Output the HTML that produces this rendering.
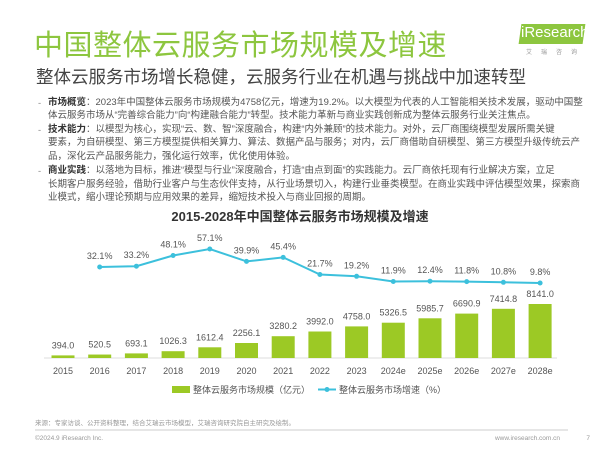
<!DOCTYPE html><html><head><meta charset="utf-8"><style>
body{margin:0;width:600px;height:449px;background:#fff;position:relative;overflow:hidden;font-family:"Liberation Sans","Noto Sans CJK SC",sans-serif;}
.a{position:absolute;white-space:nowrap}
.t{font-size:9.5px;color:#555;left:48px;line-height:12px}
.t b{color:#333}
.d{left:38px;font-size:9.4px;color:#888}
</style></head><body>
<div class="a" style="left:34px;top:22px;font-size:29px;color:#8dc63f;letter-spacing:0.5px">中国整体云服务市场规模及增速</div>
<div class="a" style="left:36px;top:64px;font-size:17.5px;color:#444">整体云服务市场增长稳健，云服务行业在机遇与挑战中加速转型</div>
<div class="a" style="left:520px;top:24px;width:64px;height:20px;background:#8dc63f;transform:skewX(-8deg)"></div>
<div class="a" style="left:521px;top:24px;font-size:15px;color:#fff">iResearch</div>
<div class="a" style="left:526px;top:47px;font-size:6px;color:#999;letter-spacing:9px">艾瑞咨询</div>
<div class="a d" style="top:97px">-</div><div class="a t" style="top:97px"><b>市场概览</b>：2023年中国整体云服务市场规模为4758亿元，增速为19.2%。以大模型为代表的人工智能相关技术发展，驱动中国整</div>
<div class="a t" style="top:110px">体云服务市场从“完善综合能力”向“构建融合能力”转型。技术能力革新与商业实践创新成为整体云服务行业关注焦点。</div>
<div class="a d" style="top:124px">-</div><div class="a t" style="top:124px"><b>技术能力</b>：以模型为核心，实现“云、数、智”深度融合，构建“内外兼顾”的技术能力。对外，云厂商围绕模型发展所需关键</div>
<div class="a t" style="top:137px">要素，为自研模型、第三方模型提供相关算力、算法、数据产品与服务；对内，云厂商借助自研模型、第三方模型升级传统云产</div>
<div class="a t" style="top:151px">品，深化云产品服务能力，强化运行效率，优化使用体验。</div>
<div class="a d" style="top:165px">-</div><div class="a t" style="top:165px"><b>商业实践</b>：以落地为目标，推进“模型与行业”深度融合，打造“由点到面”的实践能力。云厂商依托现有行业解决方案，立足</div>
<div class="a t" style="top:179px">长期客户服务经验，借助行业客户与生态伙伴支持，从行业场景切入，构建行业垂类模型。在商业实践中评估模型效果，探索商</div>
<div class="a t" style="top:192px">业模式，缩小理论预期与应用效果的差异，缩短技术投入与商业回报的周期。</div>
<div class="a" style="left:0;width:600px;text-align:center;top:206px;font-size:13px;font-weight:bold;color:#333">2015-2028年中国整体云服务市场规模及增速</div>
<svg class="a" style="left:0;top:0" width="600" height="449" font-family="Liberation Sans, Noto Sans CJK SC, sans-serif">
<line x1="44" y1="358" x2="557" y2="358" stroke="#ddd"/>
<g fill="#9cc925">
<rect x="51.5" y="355.4" width="23" height="2.6"/>
<rect x="88.2" y="354.55" width="23" height="3.45"/>
<rect x="124.9" y="353.4" width="23" height="4.6"/>
<rect x="161.6" y="351.2" width="23" height="6.8"/>
<rect x="198.3" y="347.3" width="23" height="10.7"/>
<rect x="235" y="343" width="23" height="15"/>
<rect x="271.7" y="336.2" width="23" height="21.8"/>
<rect x="308.4" y="331.5" width="23" height="26.5"/>
<rect x="345.1" y="326.4" width="23" height="31.6"/>
<rect x="381.8" y="322.7" width="23" height="35.3"/>
<rect x="418.5" y="318.3" width="23" height="39.7"/>
<rect x="455.2" y="313.6" width="23" height="44.4"/>
<rect x="491.9" y="308.8" width="23" height="49.2"/>
<rect x="528.6" y="304" width="23" height="54"/>
</g>
<g font-size="9" fill="#555" text-anchor="middle">
<text x="63" y="348.4">394.0</text>
<text x="99.7" y="347.5">520.5</text>
<text x="136.4" y="346.4">693.1</text>
<text x="173.1" y="344.2">1026.3</text>
<text x="209.8" y="340.3">1612.4</text>
<text x="246.5" y="336">2256.1</text>
<text x="283.2" y="329.2">3280.2</text>
<text x="319.9" y="324.5">3992.0</text>
<text x="356.6" y="319.4">4758.0</text>
<text x="393.3" y="315.7">5326.5</text>
<text x="430" y="311.3">5985.7</text>
<text x="466.7" y="306.6">6690.9</text>
<text x="503.4" y="301.8">7414.8</text>
<text x="540.1" y="297">8141.0</text>
<text x="63" y="374">2015</text><text x="99.7" y="374">2016</text><text x="136.4" y="374">2017</text><text x="173.1" y="374">2018</text><text x="209.8" y="374">2019</text><text x="246.5" y="374">2020</text><text x="283.2" y="374">2021</text><text x="319.9" y="374">2022</text><text x="356.6" y="374">2023</text><text x="393.3" y="374">2024e</text><text x="430" y="374">2025e</text><text x="466.7" y="374">2026e</text><text x="503.4" y="374">2027e</text><text x="540.1" y="374">2028e</text>
<text x="99.7" y="259">32.1%</text>
<text x="136.4" y="258.2">33.2%</text>
<text x="173.1" y="247.5">48.1%</text>
<text x="209.8" y="241">57.1%</text>
<text x="246.5" y="253.4">39.9%</text>
<text x="283.2" y="249.4">45.4%</text>
<text x="319.9" y="266.5">21.7%</text>
<text x="356.6" y="268.3">19.2%</text>
<text x="393.3" y="273.5">11.9%</text>
<text x="430" y="273.2">12.4%</text>
<text x="466.7" y="273.6">11.8%</text>
<text x="503.4" y="274.3">10.8%</text>
<text x="540.1" y="275">9.8%</text>
</g>
<polyline points="99.7,267 136.4,266.2 173.1,255.5 209.8,249 246.5,261.4 283.2,257.4 319.9,274.5 356.6,276.3 393.3,281.5 430,281.2 466.7,281.6 503.4,282.3 540.1,283" fill="none" stroke="#3cc0dc" stroke-width="2"/>
<g fill="#3cc0dc">
<circle cx="99.7" cy="267" r="2.5"/><circle cx="136.4" cy="266.2" r="2.5"/><circle cx="173.1" cy="255.5" r="2.5"/><circle cx="209.8" cy="249" r="2.5"/><circle cx="246.5" cy="261.4" r="2.5"/><circle cx="283.2" cy="257.4" r="2.5"/><circle cx="319.9" cy="274.5" r="2.5"/><circle cx="356.6" cy="276.3" r="2.5"/><circle cx="393.3" cy="281.5" r="2.5"/><circle cx="430" cy="281.2" r="2.5"/><circle cx="466.7" cy="281.6" r="2.5"/><circle cx="503.4" cy="282.3" r="2.5"/><circle cx="540.1" cy="283" r="2.5"/>
</g>
<rect x="172" y="386" width="18" height="7" fill="#9cc925"/>
<text x="193" y="393" font-size="9" fill="#555">整体云服务市场规模（亿元）</text>
<line x1="318" y1="389.5" x2="336" y2="389.5" stroke="#3cc0dc" stroke-width="2"/><circle cx="327" cy="389.5" r="2.5" fill="#3cc0dc"/>
<text x="339" y="393" font-size="9" fill="#555">整体云服务市场增速（%）</text>
<text x="35" y="425" font-size="6.5" fill="#999">来源：专家访谈、公开资料整理，结合艾瑞云市场模型，艾瑞咨询研究院自主研究及绘制。</text>
<line x1="35" y1="430" x2="568" y2="430" stroke="#ccc"/>
<text x="35" y="440" font-size="6.5" fill="#999">©2024.9 iResearch Inc.</text>
<text x="560" y="440" font-size="6.5" fill="#999" text-anchor="end">www.iresearch.com.cn</text>
<text x="590" y="440" font-size="6.5" fill="#999" text-anchor="end">7</text>
</svg>
</body></html>
